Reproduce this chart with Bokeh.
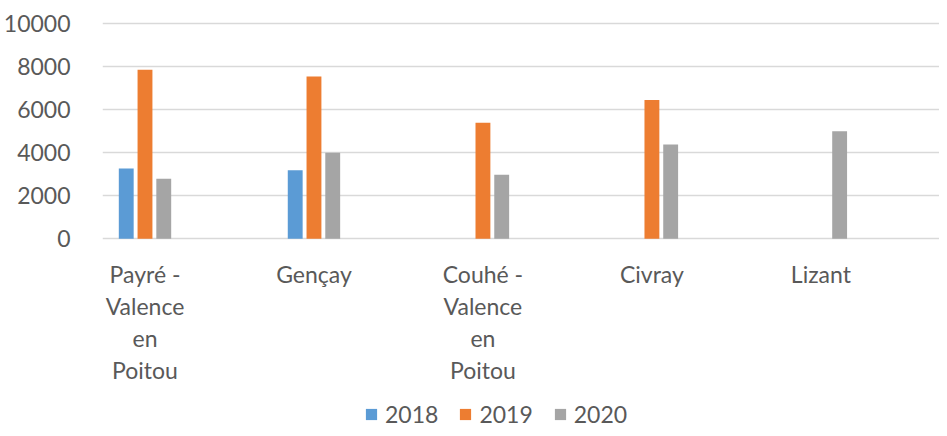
from bokeh.plotting import figure
from bokeh.models import Range1d, FixedTicker, Legend, LegendItem, ColumnDataSource
from bokeh.core.properties import value
from bokeh.embed import file_html
from bokeh.resources import INLINE

# ---- data ----
categories = ["Payré -\nValence\nen\nPoitou", "Gençay", "Couhé -\nValence\nen\nPoitou", "Civray", "Lizant"]
years = ["2018", "2019", "2020"]
v2018 = [3270, 3190, 0, 0, 0]
v2019 = [7860, 7550, 5400, 6460, 0]
v2020 = [2790, 4000, 2980, 4390, 5000]
y_ticks = [0, 2000, 4000, 6000, 8000, 10000]

series = [v2018, v2019, v2020]
colors = ["#5B9BD5", "#ED7D31", "#A5A5A5"]
FONT = "Lato"
FS = "23px"
TXT = "#595959"
GRID = "#D9D9D9"

W, H = 939, 428
PX_PER_UNIT = 215.0 / 10000.0       # vertical scale
Y0_PX, YTOP_PX = 238.3, 23.3         # pixel rows of 0 and 10000
y_top = 10000 + YTOP_PX / PX_PER_UNIT
y_bot = -(H - Y0_PX) / PX_PER_UNIT

idx = list(range(len(categories)))

p = figure(width=W, height=H, output_backend="svg", toolbar_location=None,
           x_range=Range1d(-0.2515, 4.702), y_range=Range1d(y_bot, y_top),
           min_border_left=92, min_border_right=0, min_border_top=0, min_border_bottom=0)
p.outline_line_color = None
p.background_fill_color = "white"
p.border_fill_color = "white"

items = []
offsets = [-0.111, 0.0, 0.111]
for k, (vals, col, yr) in enumerate(zip(series, colors, years)):
    src = ColumnDataSource(dict(x=[i + offsets[k] for i in idx], top=vals))
    r = p.vbar(x="x", top="top", bottom=0, width=0.088, source=src,
               fill_color=col, line_color=None)
    items.append(LegendItem(label=yr, renderers=[r]))

# category labels (wrapped lines under the axis)
lx, lt, lo = [], [], []
for i, c in zip(idx, categories):
    for j, line in enumerate(c.split("\n")):
        lx.append(i); lt.append(line); lo.append(35 + 32 * j)
p.text(x="x", y=0, text="t", y_offset="o",
       source=ColumnDataSource(dict(x=lx, t=lt, o=lo)),
       text_font=value(FONT), text_font_size=FS, text_color=TXT,
       text_align="center", text_baseline="middle")

# axes
p.xaxis.visible = False
p.yaxis.ticker = FixedTicker(ticks=y_ticks)
p.yaxis.axis_line_color = None
p.yaxis.major_tick_line_color = None
p.yaxis.minor_tick_line_color = None
p.yaxis.major_label_standoff = 26
p.yaxis.major_label_text_font = FONT
p.yaxis.major_label_text_font_size = FS
p.yaxis.major_label_text_color = TXT

p.xgrid.grid_line_color = None
p.ygrid.ticker = FixedTicker(ticks=y_ticks)
p.ygrid.grid_line_color = GRID
p.ygrid.grid_line_width = 1.5

legend = Legend(items=items, orientation="horizontal", location=(262, 0),
                border_line_color=None, background_fill_alpha=0,
                glyph_width=14, glyph_height=14, label_standoff=7, spacing=20,
                padding=0, margin=0,
                label_text_font=FONT, label_text_font_size=FS, label_text_color=TXT)
p.add_layout(legend)

open("out.html", "w").write(file_html(p, INLINE))
